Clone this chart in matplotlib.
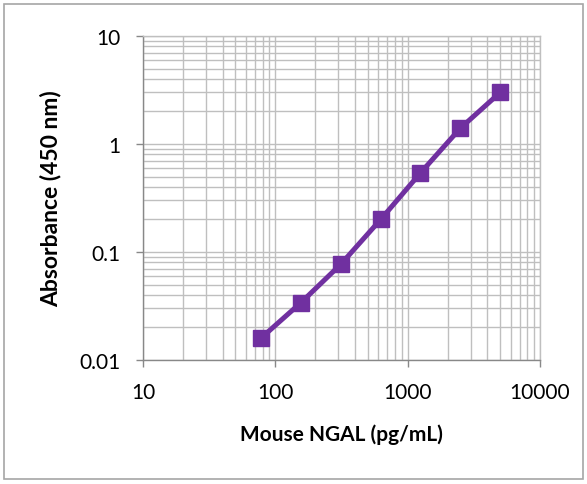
import numpy as np
import matplotlib
matplotlib.use('Agg')
import matplotlib.pyplot as plt
from matplotlib.ticker import LogLocator, FixedLocator, NullFormatter
from matplotlib.patches import Rectangle

plt.rcParams['font.family'] = ['Lato', 'DejaVu Sans']

conc = [78.125, 156.25, 312.5, 625, 1250, 2500, 5000]
absorb = [0.016, 0.034, 0.077, 0.20, 0.54, 1.40, 3.0]
x_ticks = [10, 100, 1000, 10000]
x_labels = ['10', '100', '1000', '10000']
y_ticks = [0.01, 0.1, 1, 10]
y_labels = ['0.01', '0.1', '1', '10']

fig = plt.figure(figsize=(5.87, 4.85), dpi=100)
ax = fig.add_axes([143/587, 1 - 361/485, (540-143)/587, (361-37)/485])

grid_c = '#bfbfbf'
ax.set_xscale('log')
ax.set_yscale('log')
ax.set_xlim(10, 10000)
ax.set_ylim(0.01, 10)

ax.xaxis.set_major_locator(FixedLocator(x_ticks))
ax.yaxis.set_major_locator(FixedLocator(y_ticks))
ax.set_xticklabels(x_labels)
ax.set_yticklabels(y_labels)
ax.xaxis.set_minor_locator(LogLocator(base=10, subs=np.arange(2, 10)))
ax.yaxis.set_minor_locator(LogLocator(base=10, subs=np.arange(2, 10)))
ax.xaxis.set_minor_formatter(NullFormatter())
ax.yaxis.set_minor_formatter(NullFormatter())

ax.grid(True, which='both', color=grid_c, linewidth=1.0)
ax.set_axisbelow(True)
ax.tick_params(which='major', direction='out', length=5, width=1, color='#888888',
               labelsize=15)
ax.tick_params(axis='x', which='major', pad=11)
ax.tick_params(axis='y', which='major', pad=11)
ax.tick_params(which='minor', length=0)

for s in ['top', 'right']:
    ax.spines[s].set_color(grid_c)
    ax.spines[s].set_linewidth(1.0)
for s in ['left', 'bottom']:
    ax.spines[s].set_color('#888888')
    ax.spines[s].set_linewidth(1.0)

ax.plot(conc, absorb, color='#7030a0', linewidth=3.6, marker='s',
        markersize=12, markerfacecolor='#7030a0', markeredgecolor='#7030a0',
        clip_on=False, zorder=3)

ax.set_xlabel('Mouse NGAL (pg/mL)', fontsize=15, fontweight='bold', labelpad=15)
ax.set_ylabel('Absorbance (450 nm)', fontsize=16.5, fontweight='bold', labelpad=13)

fig.patches.append(Rectangle((4/587, 5/485), 1 - 8/587, 1 - 10/485,
                             transform=fig.transFigure, fill=False,
                             edgecolor='#a6a6a6', linewidth=1.2))

fig.savefig('out.png', dpi=100)
